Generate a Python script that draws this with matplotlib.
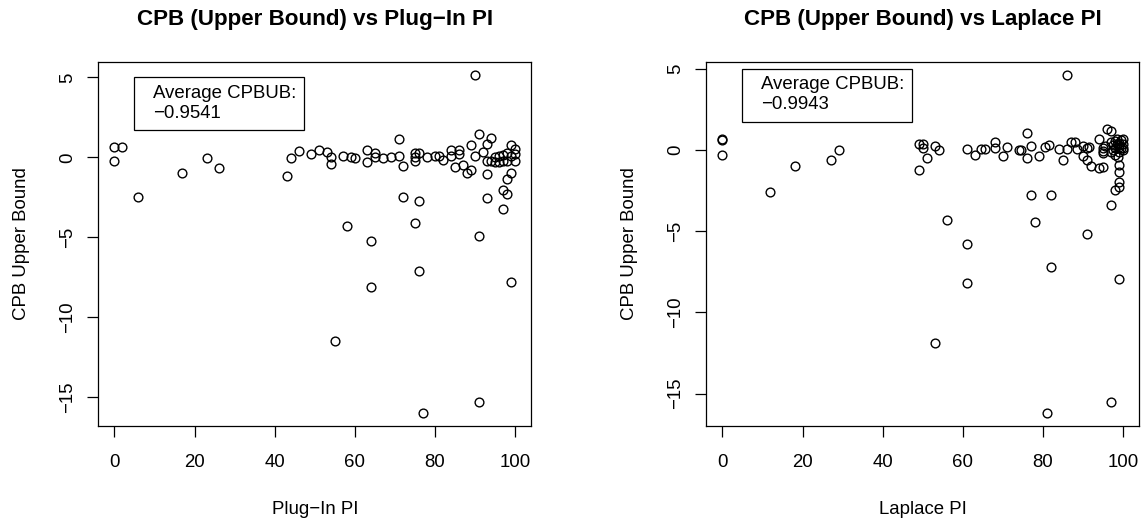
import matplotlib
matplotlib.use("Agg")
import matplotlib.pyplot as plt
from matplotlib.patches import Rectangle
from matplotlib.transforms import ScaledTranslation

plt.rcParams['font.family'] = ['Liberation Sans', 'DejaVu Sans']

# ---- data: Plug-In PI vs CPB upper bound ----
plugin_x = [0, 2, 0, 6, 17, 23, 26,
            43, 44, 46, 49, 51, 53, 54, 54, 57, 59, 60, 63, 63, 65, 65, 67, 69,
            71, 71, 72, 75, 75, 75, 76, 78, 80, 81, 82, 84, 84, 86, 86, 85, 87,
            88, 89, 89, 90, 91, 92, 93, 94, 93, 94, 95, 96, 97, 98, 99, 100, 100,
            97, 98, 99, 100, 96, 95, 93, 98, 99, 97, 98, 93, 97, 72, 76, 90,
            58, 64, 75, 91, 76, 64, 99, 55, 91, 77]
plugin_y = [0.62, 0.62, -0.2, -2.5, -1.0, -0.02, -0.65,
            -1.19, -0.02, 0.4, 0.2, 0.48, 0.31, 0.02, -0.44, 0.08, 0.04, -0.02, 0.48, -0.31, 0.28, 0.0, -0.02, 0.02,
            1.14, 0.1, -0.52, 0.3, 0.05, -0.25, 0.3, 0.02, 0.08, 0.1, -0.14, 0.1, 0.48, 0.48, 0.2, -0.58, -0.5,
            -0.95, -0.8, 0.75, 0.1, 1.44, 0.33, 0.85, 1.2, -0.2, -0.2, 0.0, 0.1, 0.15, -0.2, 0.75, 0.55, -0.2,
            -0.2, 0.3, 0.1, 0.2, -0.3, -0.3, -1.02, -1.33, -1.0, -2.06, -2.3, -2.55, -3.2, -2.48, -2.75, 5.12,
            -4.31, -5.25, -4.1, -4.94, -7.12, -8.1, -7.77, -11.5, -15.3, -15.96]

# ---- data: Laplace PI vs CPB upper bound ----
laplace_x = [0, 0, 0, 12, 18, 27, 29,
             49, 49, 50, 50, 51, 53, 54, 56, 53,
             61, 63, 64.5, 65.5, 68, 68, 70, 71, 74, 74.5, 76, 76, 77, 79, 80.5, 81.5, 84, 85, 86,
             87, 88, 86, 88.5, 90, 91, 91.5, 90, 91, 92, 94, 95, 94, 96, 97, 95, 95.5, 95, 95,
             97, 97.5, 98, 98.5, 99, 99.5, 100, 100, 99, 98, 97, 98.5, 99, 100, 97.5, 99.5, 98, 99, 100, 98.8,
             99, 99, 99, 98, 99, 97, 77, 82, 78,
             61, 91, 82, 61, 99, 97, 81]
laplace_y = [0.6, 0.65, -0.29, -2.59, -1.01, -0.64, -0.02,
             -1.21, 0.39, 0.4, 0.1, -0.5, 0.22, 0.0, -4.3, -11.88,
             0.08, -0.29, 0.05, 0.05, 0.49, 0.1, -0.4, 0.2, 0.0, 0.0, 1.04, -0.5, 0.25, -0.35, 0.2, 0.28, 0.05, -0.6, 4.59,
             0.5, 0.5, 0.05, 0.05, 0.25, 0.1, 0.2, -0.35, -0.6, -1.01, -1.1, -1.05, 0.69, 1.31, 1.17, 0.15, 0.25, -0.05, -0.2,
             0.5, 0.3, 0.1, 0.4, 0.2, 0.6, 0.35, 0.0, -0.1, -0.3, -0.1, 0.7, 0.45, 0.7, 0.0, 0.15, 0.55, 0.3, 0.15, -0.44,
             -0.95, -1.36, -2.0, -2.45, -2.3, -3.37, -2.75, -2.75, -4.41,
             -5.77, -5.15, -7.2, -8.19, -7.92, -15.5, -16.17]

titles = ["CPB (Upper Bound) vs Plug\u2212In PI", "CPB (Upper Bound) vs Laplace PI"]
xlabels = ["Plug\u2212In PI", "Laplace PI"]
ylabel = "CPB Upper Bound"
avg_text = ["Average CPBUB:\n\u22120.9541", "Average CPBUB:\n\u22120.9943"]
xticks = [0, 20, 40, 60, 80, 100]
yticks = [5, 0, -5, -10, -15]

W, H = 1146, 523
fig = plt.figure(figsize=(W / 100, H / 100), dpi=100)

ax_left_px = [98.3, 706.3]
ax_w_px = 433.0
ax_top_px, ax_bot_px = 62.0, 426.0
FS = 13.4

datasets = [(plugin_x, plugin_y), (laplace_x, laplace_y)]
for i in range(2):
    x0 = ax_left_px[i] / W
    ax = fig.add_axes([x0, (H - ax_bot_px) / H, ax_w_px / W, (ax_bot_px - ax_top_px) / H])
    xs, ys = datasets[i]
    ax.plot(xs, ys, linestyle='none', marker='o', markersize=6.3,
            markerfacecolor='none', markeredgecolor='black', markeredgewidth=1.0)
    ax.margins(0.04)
    ax.set_xticks(xticks)
    ax.set_yticks(yticks)
    for sp in ax.spines.values():
        sp.set_linewidth(0.9)
        sp.set_color('black')
    ax.tick_params(axis='both', direction='out', length=8.1, width=0.9,
                   labelsize=FS, colors='black')
    ax.tick_params(axis='x', pad=12.0)
    ax.tick_params(axis='y', pad=8.0, labelrotation=90)
    for lab in ax.get_yticklabels():
        lab.set_va('center')
        lab.set_ha('right')

    # legend-like box anchored at data (5, 5)
    trans = fig.dpi_scale_trans + ScaledTranslation(5, 5, ax.transData)
    ax.add_patch(Rectangle((0, -0.53), 1.70, 0.53, transform=trans,
                           facecolor='white', edgecolor='black', linewidth=0.9,
                           clip_on=False, zorder=5))
    line1, line2 = avg_text[i].split("\n")
    ax.text(0.184, -0.16, line1, transform=trans, fontsize=FS, ha='left',
            va='center', zorder=6)
    ax.text(0.184, -0.36, line2, transform=trans, fontsize=FS, ha='left',
            va='center', zorder=6)

    cx = (ax_left_px[i] + ax_w_px / 2) / W
    fig.text(cx, (H - 24.5) / H, titles[i], ha='center', va='baseline',
             fontsize=16.1, fontweight='bold')
    fig.text(cx, (H - 514) / H, xlabels[i], ha='center', va='baseline', fontsize=FS)
    fig.text((ax_left_px[i] - 72.3) / W, (H - (ax_top_px + ax_bot_px) / 2) / H, ylabel,
             rotation=90, rotation_mode='anchor', ha='center', va='baseline', fontsize=FS)

fig.savefig("out.png", dpi=100, facecolor='white')
